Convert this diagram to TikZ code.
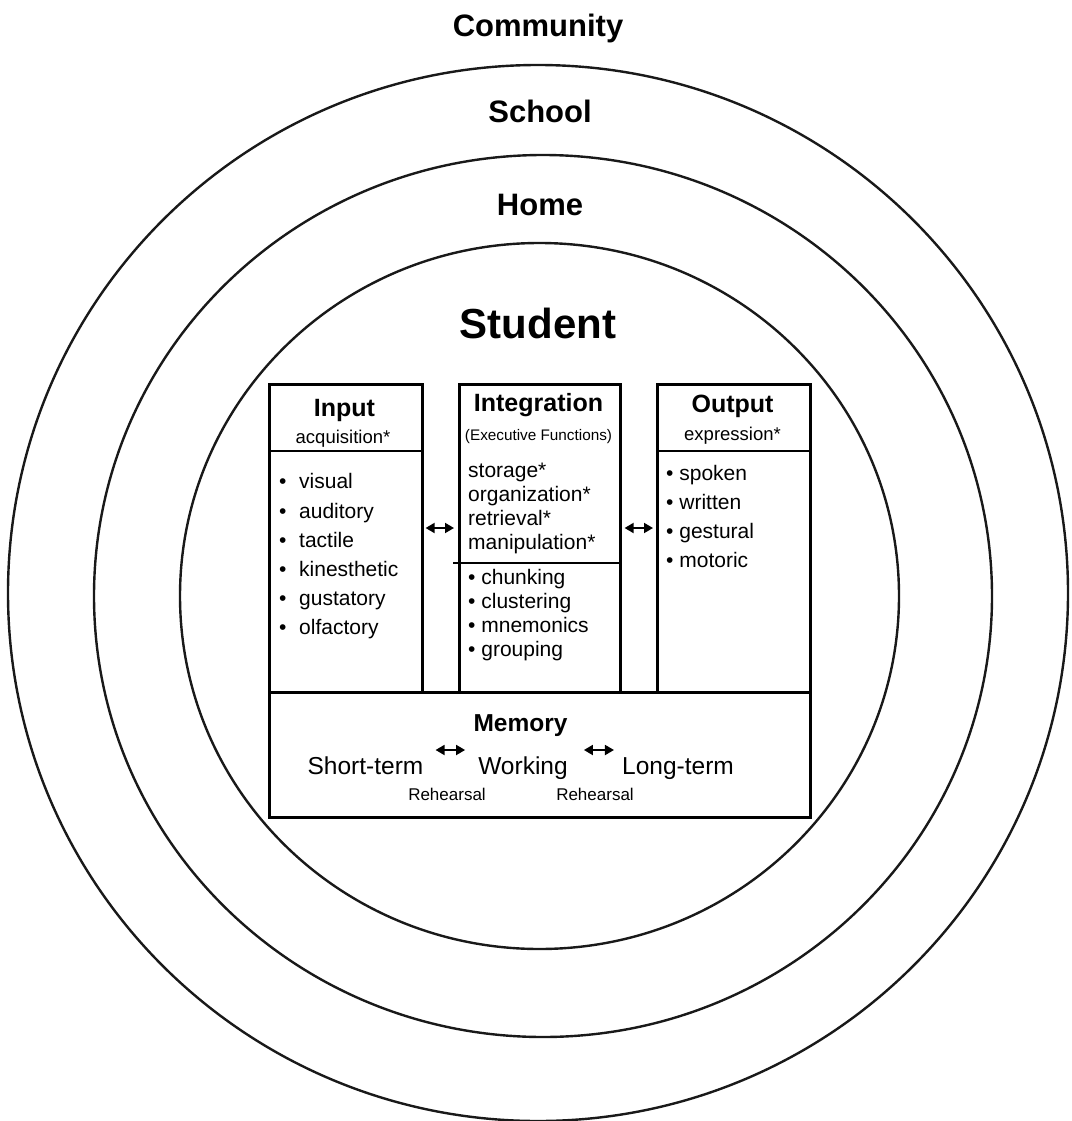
\documentclass[tikz,border=0pt]{standalone}
\usepackage{fontspec}
\setmainfont{Liberation Sans}
\usetikzlibrary{arrows.meta}
\begin{document}
\begin{tikzpicture}[x=1pt,y=-1pt,
  ring/.style={line width=2.4pt, draw=black!90},
  box/.style={draw, line width=2.6pt, rectangle, inner sep=0pt, anchor=north west},
  txt/.style={inner sep=0pt, anchor=base},
  ltxt/.style={inner sep=0pt, anchor=base west},
  level/.style={txt, font=\fontsize{31}{36}\selectfont\bfseries},
  head/.style={txt, font=\fontsize{25}{30}\selectfont\bfseries},
  sub/.style={txt, font=\fontsize{18.5}{22}\selectfont},
  item/.style={ltxt, font=\fontsize{21}{25}\selectfont},
  mem/.style={txt, font=\fontsize{24.5}{29}\selectfont},
  small/.style={txt, font=\fontsize{17}{20}\selectfont},
  biarrow/.style={line width=1.8pt, {Triangle[length=9pt,width=10pt]}-{Triangle[length=9pt,width=10pt]}}
]
\useasboundingbox (0,0) rectangle (1071,1121);

% nested contexts
\draw[ring] (538,593) ellipse [x radius=530, y radius=528];
\draw[ring] (543,596) ellipse [x radius=449, y radius=441];
\draw[ring] (539.5,596) ellipse [x radius=359.5, y radius=353];

\node[level] (community) at (538,37) {Community};
\node[level] (school) at (540,123) {School};
\node[level] (home) at (540,215) {Home};
\node[txt, font=\fontsize{42}{48}\selectfont\bfseries] (student) at (538,338) {Student};

% processing boxes
\node[box, minimum width=153, minimum height=308] (input) at (268,383) {};
\node[box, minimum width=161, minimum height=308] (integ) at (458,383) {};
\node[box, minimum width=153, minimum height=308] (output) at (656,383) {};
\node[box, minimum width=541, minimum height=125] (memory) at (268,691) {};

\coordinate (hline) at (0,451);
\coordinate (dline) at (0,563);
\coordinate (arrowy) at (0,528);
\draw[line width=2.6pt] (input.west |- hline) -- (input.east |- hline);
\draw[line width=2.6pt] (output.west |- hline) -- (output.east |- hline);
\draw[line width=2.6pt] (453,563) -- (integ.east |- dline);

\draw[biarrow, shorten <=2pt, shorten >=4pt] (input.east |- arrowy) -- (integ.west |- arrowy);
\draw[biarrow, shorten <=3pt, shorten >=3pt] (integ.east |- arrowy) -- (output.west |- arrowy);

% Input
\node[head] (intitle) at (344.5,416) {Input};
\node[sub] (insub) at (343,443) {acquisition*};
\node[item] (i1) at (279,488) {\makebox[20pt][l]{•}visual};
\node[item] (i2) at (279,518) {\makebox[20pt][l]{•}auditory};
\node[item] (i3) at (279,547) {\makebox[20pt][l]{•}tactile};
\node[item] (i4) at (279,576) {\makebox[20pt][l]{•}kinesthetic};
\node[item] (i5) at (279,605) {\makebox[20pt][l]{•}gustatory};
\node[item] (i6) at (279,634) {\makebox[20pt][l]{•}olfactory};

% Integration
\node[head] (gtitle) at (538.5,411) {Integration};
\node[txt, font=\fontsize{15.3}{18}\selectfont] (gsub) at (538.5,440) {(Executive Functions)};
\node[item] (g1) at (468,477) {storage*};
\node[item] (g2) at (468,501) {organization*};
\node[item] (g3) at (468,525) {retrieval*};
\node[item] (g4) at (468,549) {manipulation*};
\node[item] (g5) at (468,584) {• chunking};
\node[item] (g6) at (468,608) {• clustering};
\node[item] (g7) at (468,632) {• mnemonics};
\node[item] (g8) at (468,656) {• grouping};

% Output
\node[head] (otitle) at (732.5,412) {Output};
\node[sub] (osub) at (732.5,440) {expression*};
\node[item] (o1) at (666,480) {• spoken};
\node[item] (o2) at (666,509) {• written};
\node[item] (o3) at (666,538) {• gestural};
\node[item] (o4) at (666,567) {• motoric};

% Memory
\node[head, font=\fontsize{24.5}{29}\selectfont\bfseries] (mtitle) at (520.5,731) {Memory};
\node[mem] (short) at (365.5,774) {Short-term};
\node[mem] (working) at (523,774) {Working};
\node[mem] (long) at (678,774) {Long-term};
\node[small] (reh1) at (447,800) {Rehearsal};
\node[small] (reh2) at (595,800) {Rehearsal};
\coordinate (memy) at (0,750);
\draw[biarrow, shorten <=12pt, shorten >=13pt] (short.east |- memy) -- (working.west |- memy);
\draw[biarrow, shorten <=16pt, shorten >=8pt] (working.east |- memy) -- (long.west |- memy);
\end{tikzpicture}
\end{document}
